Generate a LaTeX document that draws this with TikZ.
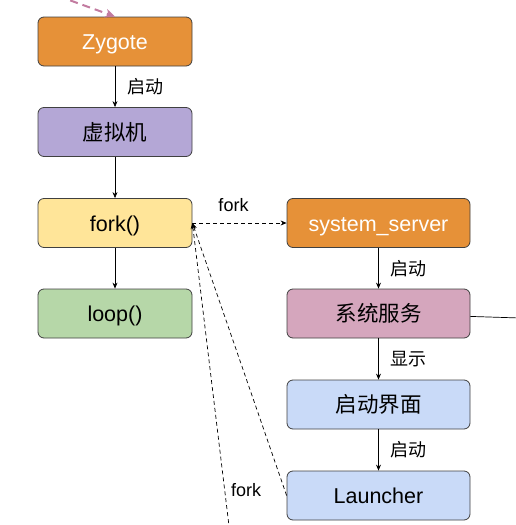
\documentclass[tikz,border=0pt]{standalone}
\usepackage{fontspec}
\setmainfont{Liberation Sans}
\newfontfamily\cjk{Noto Sans CJK SC}
\usetikzlibrary{arrows.meta}
\definecolor{zygcol}{HTML}{E69138}
\definecolor{vmcol}{HTML}{B4A7D6}
\definecolor{forkcol}{HTML}{FFE599}
\definecolor{loopcol}{HTML}{B6D7A8}
\definecolor{svccol}{HTML}{D5A6BD}
\definecolor{uicol}{HTML}{C9DAF8}
\definecolor{pinkcol}{HTML}{C27BA0}
\tikzset{
  box/.style={draw=black!75, line width=0.8pt, rounded corners=6pt,
    minimum width=154pt, minimum height=49pt, text height=16pt, text depth=0pt,
    font=\fontsize{21.5}{25}\selectfont},
  widebox/.style={box, minimum width=183pt},
  lbl/.style={font=\fontsize{18}{21}\selectfont, inner sep=0pt},
  link/.style={-{Stealth[length=6pt,width=5pt]}, line width=0.7pt},
  forklink/.style={link, dash pattern=on 4pt off 3pt},
}
\begin{document}
\begin{tikzpicture}[x=1pt, y=-1pt]
    \useasboundingbox (0, 0) rectangle (515, 525);
    \node[box, fill=zygcol, text=white] (zygote) at (115, 41.5) {Zygote};
    \node[box, fill=vmcol] (vm) at (115, 132) {\cjk 虚拟机};
    \node[box, fill=forkcol] (fork) at (115, 223) {fork()};
    \node[box, fill=loopcol] (loop) at (115, 313.5) {loop()};
    \node[widebox, fill=zygcol, text=white] (server) at (378.5, 223) {system\_server};
    \node[widebox, fill=svccol] (service) at (378.5, 313.5) {\cjk 系统服务};
    \node[widebox, fill=uicol] (splash) at (378.5, 404.5) {\cjk 启动界面};
    \node[widebox, fill=uicol] (launcher) at (378.5, 495.5) {Launcher};
    \coordinate (pinkin) at (58, -4);
    \coordinate (svcout) at (520, 318);
    \coordinate (forkin) at (229.5, 530);
    \draw[pinkcol, line width=2pt, dash pattern=on 8pt off 5pt,
        -{Stealth[length=10pt,width=9pt]}] (pinkin) -- (zygote.north);
    \draw[link] (zygote) -- node[lbl, anchor=west, xshift=12pt] {\cjk 启动} (vm);
    \draw[link] (vm) -- (fork);
    \draw[link] (fork) -- (loop);
    \draw[forklink] (fork) -- node[lbl, anchor=south, yshift=11pt, xshift=-6pt] {fork} (server);
    \draw[link] (server) -- node[lbl, anchor=west, xshift=12pt] {\cjk 启动} (service);
    \draw[link] (service) -- node[lbl, anchor=west, xshift=12pt] {\cjk 显示} (splash);
    \draw[link] (splash) -- node[lbl, anchor=west, xshift=12pt] {\cjk 启动} (launcher);
    \draw[line width=0.7pt] (service) -- (svcout);
    \draw[forklink] (launcher.west) -- (fork.east);
    \draw[forklink] (forkin) -- node[lbl, pos=0.13, anchor=west, xshift=6pt] {fork} (fork.east);
\end{tikzpicture}
\end{document}
